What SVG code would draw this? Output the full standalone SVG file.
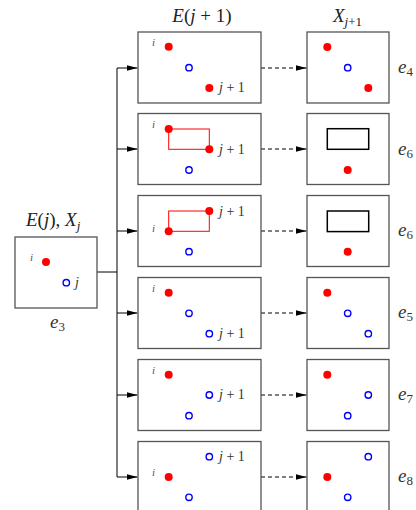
<svg xmlns="http://www.w3.org/2000/svg" width="416" height="510" viewBox="0 0 416 510">
<style>
.box{fill:#fff;stroke:#555;stroke-width:1.3}
.rd{fill:#f00}
.bc{fill:none;stroke:#00f;stroke-width:1.4}
.rr{fill:none;stroke:#f00;stroke-width:1}
.kr{fill:none;stroke:#000;stroke-width:1.5}
.t{font-family:"Liberation Serif",serif;fill:#222}
.it{font-style:italic}
.sm{font-size:11px;fill:#555;font-style:italic}
.jp{font-size:14px;fill:#333}
.ttl{font-size:19px}
.el{font-size:19px;fill:#333}
.sub{font-size:13px}
.ln{stroke:#000;stroke-width:1;fill:none}
.ds{stroke:#000;stroke-width:1;fill:none;stroke-dasharray:4 3}
</style>
<defs>
<marker id="ah" viewBox="0 0 11 6" refX="11" refY="3" markerWidth="11" markerHeight="6" markerUnits="userSpaceOnUse" orient="auto">
<path d="M0,0 L11,3 L0,6 Z" fill="#000"/>
</marker>
</defs>

<g id="connectors">
<path class="ln" d="M97,272 H117 M117,68 V477"/>
<path class="ln" d="M117,68 H137.5" marker-end="url(#ah)"/>
<path class="ln" d="M117,149 H137.5" marker-end="url(#ah)"/>
<path class="ln" d="M117,231 H137.5" marker-end="url(#ah)"/>
<path class="ln" d="M117,313 H137.5" marker-end="url(#ah)"/>
<path class="ln" d="M117,395 H137.5" marker-end="url(#ah)"/>
<path class="ln" d="M117,477 H137.5" marker-end="url(#ah)"/>
<path class="ds" d="M261,68 H306.5" marker-end="url(#ah)"/>
<path class="ds" d="M261,149 H306.5" marker-end="url(#ah)"/>
<path class="ds" d="M261,231 H306.5" marker-end="url(#ah)"/>
<path class="ds" d="M261,313 H306.5" marker-end="url(#ah)"/>
<path class="ds" d="M261,395 H306.5" marker-end="url(#ah)"/>
<path class="ds" d="M261,477 H306.5" marker-end="url(#ah)"/>
</g>

<g id="titles">
<text class="t ttl" x="202" y="22" text-anchor="middle"><tspan class="it">E</tspan>(<tspan class="it">j</tspan> + 1)</text>
<text class="t ttl" x="333" y="22"><tspan class="it">X</tspan><tspan class="sub it" dy="4">j</tspan><tspan class="sub" dy="0">+1</tspan></text>
</g>

<g id="start">
<text class="t ttl" x="26" y="226"><tspan class="it">E</tspan>(<tspan class="it">j</tspan>), <tspan class="it">X</tspan><tspan class="sub it" dy="4">j</tspan></text>
<rect class="box" x="15" y="237" width="82" height="71"/>
<text class="t sm" x="30" y="261">i</text>
<circle class="rd" cx="46" cy="262" r="4"/>
<circle class="bc" cx="66.3" cy="282.7" r="3.2"/>
<text class="t jp it" x="75" y="287">j</text>
<text class="t el" x="50" y="328"><tspan class="it">e</tspan><tspan class="sub" dy="3">3</tspan></text>
</g>

<g id="m1">
<rect class="box" x="138" y="32" width="123" height="71"/>
<text class="t sm" x="152" y="46">i</text>
<circle class="rd" cx="168.7" cy="46.7" r="4"/>
<circle class="bc" cx="189" cy="67.7" r="3.2"/>
<circle class="rd" cx="209.3" cy="88" r="4"/>
<text class="t jp" x="219" y="92"><tspan class="it">j</tspan> + 1</text>
</g>
<g id="r1">
<rect class="box" x="307" y="32" width="82" height="71"/>
<circle class="rd" cx="327.3" cy="47" r="4"/>
<circle class="bc" cx="347.7" cy="67.7" r="3.2"/>
<circle class="rd" cx="368.3" cy="88" r="4"/>
<text class="t el" x="398" y="73"><tspan class="it">e</tspan><tspan class="sub" dy="3">4</tspan></text>
</g>

<g id="m2">
<rect class="box" x="138" y="113.5" width="123" height="71"/>
<rect class="rr" x="168.7" y="129" width="40.6" height="20.3"/>
<text class="t sm" x="152" y="128">i</text>
<circle class="rd" cx="168.7" cy="129" r="4"/>
<circle class="rd" cx="209.3" cy="149.3" r="4"/>
<circle class="bc" cx="189" cy="170" r="3.2"/>
<text class="t jp" x="219" y="154"><tspan class="it">j</tspan> + 1</text>
</g>
<g id="r2">
<rect class="box" x="307" y="113.5" width="82" height="71"/>
<rect class="kr" x="327.3" y="128.7" width="41.4" height="20.6"/>
<circle class="rd" cx="347.7" cy="170" r="4"/>
<text class="t el" x="398" y="155"><tspan class="it">e</tspan><tspan class="sub" dy="3">6</tspan></text>
</g>

<g id="m3">
<rect class="box" x="138" y="195.5" width="123" height="71"/>
<rect class="rr" x="168.7" y="211" width="40.6" height="20.3"/>
<text class="t sm" x="152" y="232">i</text>
<circle class="rd" cx="209.3" cy="211" r="4"/>
<circle class="rd" cx="168.7" cy="231.3" r="4"/>
<circle class="bc" cx="189" cy="251.7" r="3.2"/>
<text class="t jp" x="219" y="216"><tspan class="it">j</tspan> + 1</text>
</g>
<g id="r3">
<rect class="box" x="307" y="195.5" width="82" height="71"/>
<rect class="kr" x="327.3" y="211" width="41.4" height="20.6"/>
<circle class="rd" cx="347.7" cy="251.7" r="4"/>
<text class="t el" x="398" y="236"><tspan class="it">e</tspan><tspan class="sub" dy="3">6</tspan></text>
</g>

<g id="m4">
<rect class="box" x="138" y="277.5" width="123" height="71"/>
<text class="t sm" x="152" y="292">i</text>
<circle class="rd" cx="168.7" cy="292.7" r="4"/>
<circle class="bc" cx="189" cy="313.3" r="3.2"/>
<circle class="bc" cx="209.3" cy="333.7" r="3.2"/>
<text class="t jp" x="219" y="338"><tspan class="it">j</tspan> + 1</text>
</g>
<g id="r4">
<rect class="box" x="307" y="277.5" width="82" height="71"/>
<circle class="rd" cx="327.3" cy="292.7" r="4"/>
<circle class="bc" cx="347.7" cy="313.3" r="3.2"/>
<circle class="bc" cx="368.3" cy="333.7" r="3.2"/>
<text class="t el" x="398" y="318"><tspan class="it">e</tspan><tspan class="sub" dy="3">5</tspan></text>
</g>

<g id="m5">
<rect class="box" x="138" y="359.5" width="123" height="71"/>
<text class="t sm" x="152" y="374">i</text>
<circle class="rd" cx="168.7" cy="374.7" r="4"/>
<circle class="bc" cx="209.3" cy="395" r="3.2"/>
<circle class="bc" cx="189" cy="415.7" r="3.2"/>
<text class="t jp" x="219" y="399"><tspan class="it">j</tspan> + 1</text>
</g>
<g id="r5">
<rect class="box" x="307" y="359.5" width="82" height="71"/>
<circle class="rd" cx="327.3" cy="374.7" r="4"/>
<circle class="bc" cx="368.3" cy="395" r="3.2"/>
<circle class="bc" cx="347.7" cy="415.7" r="3.2"/>
<text class="t el" x="398" y="400"><tspan class="it">e</tspan><tspan class="sub" dy="3">7</tspan></text>
</g>

<g id="m6">
<rect class="box" x="138" y="441.5" width="123" height="71"/>
<text class="t sm" x="152" y="476">i</text>
<circle class="bc" cx="209.3" cy="456.7" r="3.2"/>
<circle class="rd" cx="168.7" cy="477" r="4"/>
<circle class="bc" cx="189" cy="497.3" r="3.2"/>
<text class="t jp" x="219" y="461"><tspan class="it">j</tspan> + 1</text>
</g>
<g id="r6">
<rect class="box" x="307" y="441.5" width="82" height="71"/>
<circle class="bc" cx="368.3" cy="456.7" r="3.2"/>
<circle class="rd" cx="327.3" cy="477" r="4"/>
<circle class="bc" cx="347.7" cy="497.3" r="3.2"/>
<text class="t el" x="398" y="482"><tspan class="it">e</tspan><tspan class="sub" dy="3">8</tspan></text>
</g>
</svg>
